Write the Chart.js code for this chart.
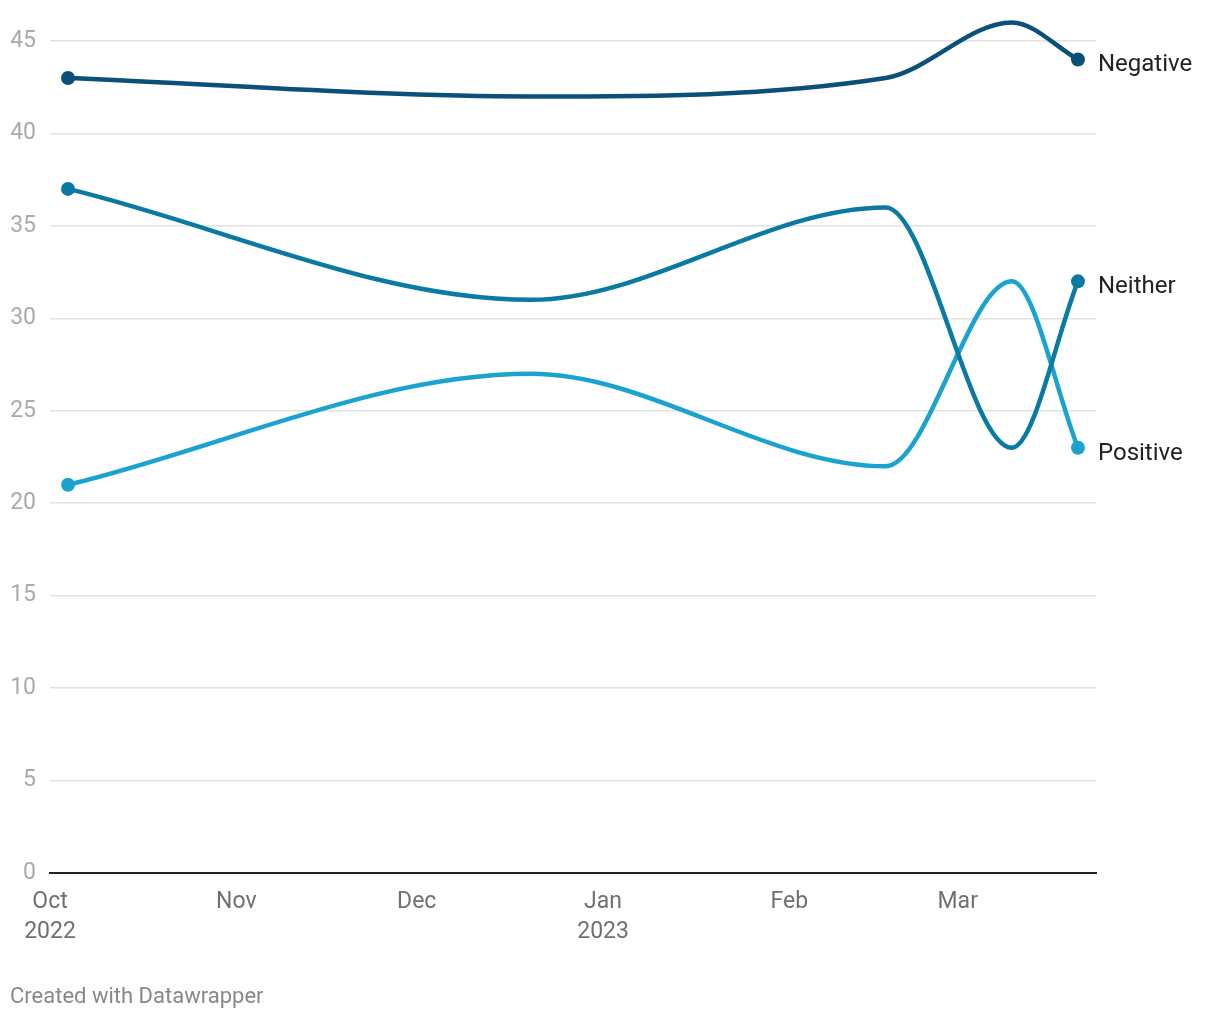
<!DOCTYPE html>
<html>
<head>
<meta charset="utf-8">
<script src="https://cdn.jsdelivr.net/npm/chart.js@4"></script>
<style>
  body { margin: 0; background: #fff; font-family: Roboto, sans-serif; }
  .wrap { position: relative; width: 1220px; height: 1020px; }
  .footer { position: absolute; left: 10px; top: 983px; font-size: 22px; color: #888; }
</style>
</head>
<body>
<div class="wrap">
  <canvas id="chart" width="1220" height="1020"></canvas>
  <div class="footer">Created with Datawrapper</div>
</div>
<script>
// survey dates
const dates = ["2022-10-04", "2022-12-20", "2023-02-17", "2023-03-10", "2023-03-21"];

const negative = [43, 42, 43, 46, 44];
const neither = [37, 31, 36, 23, 32];
const positive = [21, 27, 22, 32, 23];

const monthTicks = ["2022-10-01", "2022-11-01", "2022-12-01", "2023-01-01", "2023-02-01", "2023-03-01"];
const monthLabels = [["Oct", "2022"], "Nov", "Dec", ["Jan", "2023"], "Feb", "Mar"];

const yTicks = [0, 5, 10, 15, 20, 25, 30, 35, 40, 45];

// days since Oct 1 2022, used as x value
const start = Date.UTC(2022, 9, 1);
const toDay = (s) => {
  const [y, m, d] = s.split("-").map(Number);
  return Math.round((Date.UTC(y, m - 1, d) - start) / 86400000);
};
const xDays = dates.map(toDay);
const monthDays = monthTicks.map(toDay);

const makeSet = (label, values, color) => ({
  label: label,
  data: values.map((v, i) => ({ x: xDays[i], y: v })),
  borderColor: color,
  backgroundColor: color,
  borderWidth: 4.5,
  cubicInterpolationMode: "monotone",
  pointRadius: (ctx) => (ctx.dataIndex === 0 || ctx.dataIndex === values.length - 1 ? 7 : 0),
  pointBorderWidth: 0,
  pointHoverRadius: 0,
  clip: false,
});

// labels at the end of each line
const endLabels = {
  id: "endLabels",
  afterDatasetsDraw(chart) {
    const ctx = chart.ctx;
    ctx.save();
    ctx.font = "24px Roboto";
    ctx.fillStyle = "#222";
    ctx.textAlign = "left";
    ctx.textBaseline = "middle";
    chart.data.datasets.forEach((ds, i) => {
      const pts = chart.getDatasetMeta(i).data;
      const p = pts[pts.length - 1];
      ctx.fillText(ds.label, p.x + 20, p.y + 6);
    });
    ctx.restore();
  },
};

new Chart(document.getElementById("chart"), {
  type: "line",
  data: {
    datasets: [
      makeSet("Negative", negative, "#0b5079"),
      makeSet("Neither", neither, "#0b7aa3"),
      makeSet("Positive", positive, "#1aa3cf"),
    ],
  },
  options: {
    responsive: false,
    animation: false,
    layout: { padding: { top: 41, right: 124, bottom: 75, left: 0 } },
    plugins: { legend: { display: false }, tooltip: { enabled: false } },
    scales: {
      x: {
        type: "linear",
        min: 0,
        max: 174,
        afterBuildTicks: (axis) => {
          axis.ticks = monthDays.map((v) => ({ value: v }));
        },
        afterFit: (axis) => {
          axis.height = 72;
        },
        ticks: {
          autoSkip: false,
          maxRotation: 0,
          padding: 6,
          color: "#707070",
          font: { family: "Roboto", size: 23, lineHeight: 1.3 },
          callback: (v) => monthLabels[monthDays.indexOf(v)],
        },
        grid: { display: false },
        border: { display: true, color: "#222", width: 2 },
      },
      y: {
        min: 0,
        max: 45,
        afterBuildTicks: (axis) => {
          axis.ticks = yTicks.map((v) => ({ value: v }));
        },
        afterFit: (axis) => {
          axis.width = 50;
        },
        ticks: {
          padding: 14,
          color: "#aaa",
          font: { family: "Roboto", size: 23 },
        },
        grid: {
          drawTicks: false,
          color: (c) => (c.tick && c.tick.value === 0 ? "rgba(0,0,0,0)" : "#e2e2e2"),
          lineWidth: 1.5,
        },
        border: { display: false },
      },
    },
  },
  plugins: [endLabels],
});
</script>
</body>
</html>
